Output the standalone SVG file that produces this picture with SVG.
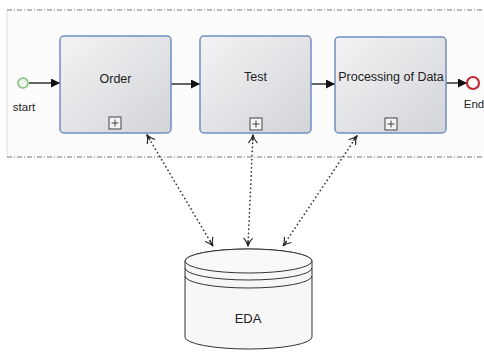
<svg xmlns="http://www.w3.org/2000/svg" width="484" height="352" viewBox="0 0 484 352">
  <defs>
    <linearGradient id="taskFill" x1="0" y1="0" x2="1" y2="1">
      <stop offset="0" stop-color="#f3f3f5"/>
      <stop offset="1" stop-color="#d3d4d8"/>
    </linearGradient>
    <marker id="flowHead" viewBox="0 0 10 10" refX="10" refY="5" markerWidth="9" markerHeight="9" markerUnits="userSpaceOnUse" orient="auto">
      <path d="M0,0 L10,5 L0,10 Z" fill="#111"/>
    </marker>
    <marker id="openHead" viewBox="0 0 10 10" refX="9" refY="5" markerWidth="10" markerHeight="10" markerUnits="userSpaceOnUse" orient="auto-start-reverse">
      <path d="M1,0.5 Q5,4 9,5 Q5,6 1,9.5 M9,5 L3,5" fill="none" stroke="#222" stroke-width="1.1"/>
    </marker>
  </defs>
  <style>
    .lane { stroke: #7a7a7a; stroke-width: 1; stroke-dasharray: 5 2 1 2; fill: none; }
    .task rect.body { fill: url(#taskFill); stroke: #6f8fc0; stroke-width: 1.5; }
    .task rect.sub { fill: #f4f4f4; stroke: #444; stroke-width: 1; }
    .task path.plus { stroke: #444; stroke-width: 1; fill: none; }
    text { font-family: "Liberation Sans", Arial, sans-serif; fill: #222; }
    .label { font-size: 12.5px; text-anchor: middle; }
    .flow { stroke: #111; stroke-width: 1.3; fill: none; marker-end: url(#flowHead); }
    .assoc { stroke: #333; stroke-width: 1.7; stroke-dasharray: 0.1 4; stroke-linecap: round; fill: none; }
    .assocEnds { stroke: none; fill: none; marker-start: url(#openHead); marker-end: url(#openHead); }
    .db { fill: #f7f7f8; stroke: #333; stroke-width: 1; }
  </style>

  <!-- pool background and lane borders -->
  <rect x="7" y="10" width="477" height="147" fill="#fcfcfc"/>
  <line x1="7" y1="10" x2="7" y2="157" stroke="#dddddd" stroke-width="1"/>
  <line class="lane" x1="7" y1="10" x2="484" y2="10"/>
  <line class="lane" x1="7" y1="157" x2="484" y2="157"/>

  <g id="connectors">
    <line class="flow" x1="29" y1="83" x2="60" y2="83"/>
    <line class="flow" x1="171" y1="84" x2="200" y2="84"/>
    <line class="flow" x1="311" y1="84" x2="335" y2="84"/>
    <line class="flow" x1="446" y1="83" x2="467" y2="83"/>

    <!-- associations between tasks and the data store -->
    <line class="assoc" x1="147" y1="135" x2="213" y2="246"/>
    <line class="assoc" x1="253" y1="135" x2="248" y2="246"/>
    <line class="assoc" x1="357" y1="136" x2="283" y2="246"/>
    <path class="assocEnds" d="M147,135 L150,140 L210,241 L213,246"/>
    <path class="assocEnds" d="M253,135 L252.9,141 L248.1,240 L248,246"/>
    <path class="assocEnds" d="M357,136 L353,141 L287,241 L283,246"/>
  </g>

  <g id="start">
    <circle cx="23" cy="83" r="5" fill="#eef3ee" stroke="#7cc07c" stroke-width="1.5"/>
    <text x="24" y="111" font-size="11.5" text-anchor="middle">start</text>
  </g>

  <g id="order" class="task">
    <rect class="body" x="60" y="36" width="111" height="97" rx="4"/>
    <text class="label" x="115.5" y="83">Order</text>
    <rect class="sub" x="109" y="117" width="12" height="12"/>
    <path class="plus" d="M115,119.5 V126.5 M111.5,123 H118.5"/>
  </g>

  <g id="test" class="task">
    <rect class="body" x="200" y="36" width="111" height="97" rx="4"/>
    <text class="label" x="255.5" y="81">Test</text>
    <rect class="sub" x="250" y="118" width="12" height="12"/>
    <path class="plus" d="M256,120.5 V127.5 M252.5,124 H259.5"/>
  </g>

  <g id="processing" class="task">
    <rect class="body" x="335" y="37" width="111" height="96" rx="4"/>
    <text class="label" x="391" y="81">Processing of Data</text>
    <rect class="sub" x="385" y="118" width="12" height="12"/>
    <path class="plus" d="M391,120.5 V127.5 M387.5,124 H394.5"/>
  </g>

  <g id="end">
    <circle cx="473" cy="83" r="6" fill="#fafafa" stroke="#c22a36" stroke-width="2.2"/>
    <text x="474" y="108" font-size="11.5" text-anchor="middle">End</text>
  </g>

  <g id="eda">
    <path class="db" d="M185,261 V337 A63.5,12 0 0 0 312,337 V261 A63.5,12 0 0 0 185,261 Z"/>
    <ellipse cx="248.5" cy="261" rx="63.5" ry="12" fill="#f9f9fa" stroke="#333" stroke-width="1"/>
    <path d="M185,268 A63.5,12 0 0 0 312,268" fill="none" stroke="#333" stroke-width="1"/>
    <path d="M185,276 A63.5,12 0 0 0 312,276" fill="none" stroke="#333" stroke-width="1"/>
    <text x="248" y="323" font-size="13" text-anchor="middle">EDA</text>
  </g>
</svg>
